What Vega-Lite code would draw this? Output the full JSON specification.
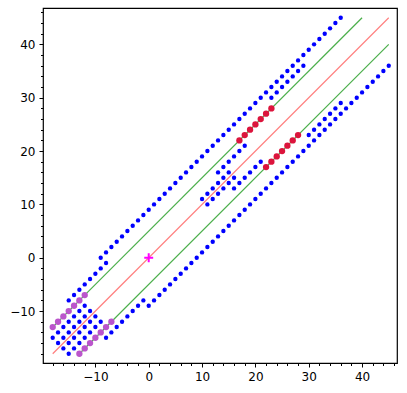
{
  "$schema": "https://vega.github.io/schema/vega-lite/v6.json",
  "width": 354,
  "height": 355,
  "autosize": {"type": "none"},
  "padding": {"left": 43, "top": 8, "right": 10, "bottom": 30},
  "background": "white",
  "config": {
    "view": {"stroke": "black", "strokeWidth": 1.2},
    "axis": {"grid": false, "domain": false, "tickColor": "black", "labelColor": "black", "labelFont": "DejaVu Sans", "labelFontSize": 12, "labelFlush": false, "tickWidth": 1}
  },
  "datasets": {
    "lines": [
      {"x": -18, "y": -18, "x2": 45, "y2": 45, "c": "L"},
      {"x": -18, "y": -13, "x2": 40, "y2": 45, "c": "G"},
      {"x": -13, "y": -18, "x2": 45, "y2": 40, "c": "G"}
    ],
    "pts": [
      {"x":-9,"y":0,"k":"b"},{"x":-8,"y":1,"k":"b"},{"x":-7,"y":2,"k":"b"},{"x":-6,"y":3,"k":"b"},{"x":-5,"y":4,"k":"b"},{"x":-4,"y":5,"k":"b"},{"x":-3,"y":6,"k":"b"},{"x":-2,"y":7,"k":"b"},{"x":-1,"y":8,"k":"b"},{"x":0,"y":9,"k":"b"},
      {"x":1,"y":10,"k":"b"},{"x":2,"y":11,"k":"b"},{"x":3,"y":12,"k":"b"},{"x":4,"y":13,"k":"b"},{"x":5,"y":14,"k":"b"},{"x":6,"y":15,"k":"b"},{"x":7,"y":16,"k":"b"},{"x":8,"y":17,"k":"b"},{"x":9,"y":18,"k":"b"},{"x":10,"y":19,"k":"b"},
      {"x":11,"y":20,"k":"b"},{"x":12,"y":21,"k":"b"},{"x":13,"y":22,"k":"b"},{"x":14,"y":23,"k":"b"},{"x":15,"y":24,"k":"b"},{"x":16,"y":25,"k":"b"},{"x":17,"y":26,"k":"b"},{"x":18,"y":27,"k":"b"},{"x":19,"y":28,"k":"b"},{"x":20,"y":29,"k":"b"},
      {"x":21,"y":30,"k":"b"},{"x":22,"y":31,"k":"b"},{"x":23,"y":32,"k":"b"},{"x":24,"y":33,"k":"b"},{"x":25,"y":34,"k":"b"},{"x":26,"y":35,"k":"b"},{"x":27,"y":36,"k":"b"},{"x":28,"y":37,"k":"b"},{"x":29,"y":38,"k":"b"},{"x":30,"y":39,"k":"b"},
      {"x":31,"y":40,"k":"b"},{"x":32,"y":41,"k":"b"},{"x":33,"y":42,"k":"b"},{"x":34,"y":43,"k":"b"},{"x":35,"y":44,"k":"b"},{"x":36,"y":45,"k":"b"},
      {"x":0,"y":-9,"k":"b"},{"x":1,"y":-8,"k":"b"},{"x":2,"y":-7,"k":"b"},{"x":3,"y":-6,"k":"b"},{"x":4,"y":-5,"k":"b"},{"x":5,"y":-4,"k":"b"},{"x":6,"y":-3,"k":"b"},{"x":7,"y":-2,"k":"b"},{"x":8,"y":-1,"k":"b"},{"x":9,"y":0,"k":"b"},
      {"x":10,"y":1,"k":"b"},{"x":11,"y":2,"k":"b"},{"x":12,"y":3,"k":"b"},{"x":13,"y":4,"k":"b"},{"x":14,"y":5,"k":"b"},{"x":15,"y":6,"k":"b"},{"x":16,"y":7,"k":"b"},{"x":17,"y":8,"k":"b"},{"x":18,"y":9,"k":"b"},{"x":19,"y":10,"k":"b"},
      {"x":20,"y":11,"k":"b"},{"x":21,"y":12,"k":"b"},{"x":22,"y":13,"k":"b"},{"x":23,"y":14,"k":"b"},{"x":24,"y":15,"k":"b"},{"x":25,"y":16,"k":"b"},{"x":26,"y":17,"k":"b"},{"x":27,"y":18,"k":"b"},{"x":28,"y":19,"k":"b"},{"x":29,"y":20,"k":"b"},
      {"x":30,"y":21,"k":"b"},{"x":31,"y":22,"k":"b"},{"x":32,"y":23,"k":"b"},{"x":33,"y":24,"k":"b"},{"x":34,"y":25,"k":"b"},{"x":35,"y":26,"k":"b"},{"x":36,"y":27,"k":"b"},{"x":37,"y":28,"k":"b"},{"x":38,"y":29,"k":"b"},{"x":39,"y":30,"k":"b"},
      {"x":40,"y":31,"k":"b"},{"x":41,"y":32,"k":"b"},{"x":42,"y":33,"k":"b"},{"x":43,"y":34,"k":"b"},{"x":44,"y":35,"k":"b"},{"x":45,"y":36,"k":"b"},
      {"x":-15,"y":-8,"k":"b"},{"x":-14,"y":-7,"k":"b"},{"x":-13,"y":-6,"k":"b"},{"x":-12,"y":-5,"k":"b"},{"x":-11,"y":-4,"k":"b"},{"x":-10,"y":-3,"k":"b"},{"x":-9,"y":-2,"k":"b"},{"x":-8,"y":-1,"k":"b"},
      {"x":-8,"y":-15,"k":"b"},{"x":-7,"y":-14,"k":"b"},{"x":-6,"y":-13,"k":"b"},{"x":-5,"y":-12,"k":"b"},{"x":-4,"y":-11,"k":"b"},{"x":-3,"y":-10,"k":"b"},{"x":-2,"y":-9,"k":"b"},{"x":-1,"y":-8,"k":"b"},
      {"x":23,"y":30,"k":"b"},{"x":24,"y":31,"k":"b"},{"x":25,"y":32,"k":"b"},{"x":26,"y":33,"k":"b"},{"x":27,"y":34,"k":"b"},{"x":28,"y":35,"k":"b"},{"x":29,"y":36,"k":"b"},
      {"x":30,"y":23,"k":"b"},{"x":31,"y":24,"k":"b"},{"x":32,"y":25,"k":"b"},{"x":33,"y":26,"k":"b"},{"x":34,"y":27,"k":"b"},{"x":35,"y":28,"k":"b"},{"x":36,"y":29,"k":"b"},
      {"x":-18,"y":-15,"k":"b"},{"x":-17,"y":-14,"k":"b"},{"x":-16,"y":-13,"k":"b"},{"x":-15,"y":-12,"k":"b"},{"x":-14,"y":-11,"k":"b"},{"x":-13,"y":-10,"k":"b"},{"x":-12,"y":-9,"k":"b"},
      {"x":-17,"y":-16,"k":"b"},{"x":-16,"y":-15,"k":"b"},{"x":-15,"y":-14,"k":"b"},{"x":-14,"y":-13,"k":"b"},{"x":-13,"y":-12,"k":"b"},{"x":-12,"y":-11,"k":"b"},{"x":-11,"y":-10,"k":"b"},
      {"x":-16,"y":-17,"k":"b"},{"x":-15,"y":-16,"k":"b"},{"x":-14,"y":-15,"k":"b"},{"x":-13,"y":-14,"k":"b"},{"x":-12,"y":-13,"k":"b"},{"x":-11,"y":-12,"k":"b"},{"x":-10,"y":-11,"k":"b"},
      {"x":-15,"y":-18,"k":"b"},{"x":-14,"y":-17,"k":"b"},{"x":-13,"y":-16,"k":"b"},{"x":-12,"y":-15,"k":"b"},{"x":-11,"y":-14,"k":"b"},{"x":-10,"y":-13,"k":"b"},{"x":-9,"y":-12,"k":"b"},
      {"x":13,"y":16,"k":"b"},{"x":14,"y":17,"k":"b"},{"x":15,"y":18,"k":"b"},{"x":16,"y":19,"k":"b"},{"x":17,"y":20,"k":"b"},{"x":18,"y":21,"k":"b"},
      {"x":10,"y":11,"k":"b"},{"x":11,"y":12,"k":"b"},{"x":12,"y":13,"k":"b"},{"x":13,"y":14,"k":"b"},{"x":14,"y":15,"k":"b"},{"x":15,"y":16,"k":"b"},
      {"x":11,"y":10,"k":"b"},{"x":12,"y":11,"k":"b"},{"x":13,"y":12,"k":"b"},{"x":14,"y":13,"k":"b"},{"x":15,"y":14,"k":"b"},{"x":16,"y":15,"k":"b"},
      {"x":16,"y":13,"k":"b"},{"x":17,"y":14,"k":"b"},{"x":18,"y":15,"k":"b"},{"x":19,"y":16,"k":"b"},{"x":20,"y":17,"k":"b"},{"x":21,"y":18,"k":"b"},
      {"x":-18,"y":-13,"k":"p"},{"x":-17,"y":-12,"k":"p"},{"x":-16,"y":-11,"k":"p"},{"x":-15,"y":-10,"k":"p"},{"x":-14,"y":-9,"k":"p"},{"x":-13,"y":-8,"k":"p"},{"x":-12,"y":-7,"k":"p"},
      {"x":-13,"y":-18,"k":"p"},{"x":-12,"y":-17,"k":"p"},{"x":-11,"y":-16,"k":"p"},{"x":-10,"y":-15,"k":"p"},{"x":-9,"y":-14,"k":"p"},{"x":-8,"y":-13,"k":"p"},{"x":-7,"y":-12,"k":"p"},
      {"x":17,"y":22,"k":"r"},{"x":18,"y":23,"k":"r"},{"x":19,"y":24,"k":"r"},{"x":20,"y":25,"k":"r"},{"x":21,"y":26,"k":"r"},{"x":22,"y":27,"k":"r"},{"x":23,"y":28,"k":"r"},
      {"x":22,"y":17,"k":"r"},{"x":23,"y":18,"k":"r"},{"x":24,"y":19,"k":"r"},{"x":25,"y":20,"k":"r"},{"x":26,"y":21,"k":"r"},{"x":27,"y":22,"k":"r"},{"x":28,"y":23,"k":"r"},
      {"x":0,"y":0,"k":"o"}
    ]
  },
  "layer": [
    {
      "data": {"name": "lines"},
      "mark": {"type": "rule", "strokeWidth": 1.2},
      "encoding": {
        "x": {"field": "x", "type": "quantitative", "scale": {"domain": [-19.82, 46.55], "nice": false, "zero": false},
              "axis": {"orient": "bottom", "values": [-18,-16,-14,-12,-8,-6,-4,-2,2,4,6,8,12,14,16,18,22,24,26,28,32,34,36,38,42,44,46], "labels": false, "tickSize": 2.5, "title": null}},
        "y": {"field": "y", "type": "quantitative", "scale": {"domain": [-19.74, 46.82], "nice": false, "zero": false},
              "axis": {"orient": "left", "values": [-18,-16,-14,-12,-8,-6,-4,-2,2,4,6,8,12,14,16,18,22,24,26,28,32,34,36,38,42,44,46], "labels": false, "tickSize": 2.5, "title": null}},
        "x2": {"field": "x2"},
        "y2": {"field": "y2"},
        "color": {"field": "c", "type": "nominal", "scale": {"domain": ["L", "G"], "range": ["#ff8080", "#4caf4c"]}, "legend": null}
      }
    },
    {
      "data": {"name": "pts"},
      "transform": [{"filter": "datum.k == 'b'"}],
      "mark": {"type": "circle", "size": 19, "color": "#0000ff", "opacity": 1},
      "encoding": {
        "x": {"field": "x", "type": "quantitative",
              "axis": {"orient": "bottom", "values": [-10, 0, 10, 20, 30, 40], "tickSize": 4, "labelPadding": 4, "title": null, "labelExpr": "replace(datum.label, '-', '\u2212')"}},
        "y": {"field": "y", "type": "quantitative",
              "axis": {"orient": "left", "values": [-10, 0, 10, 20, 30, 40], "tickSize": 4, "labelPadding": 4, "title": null, "labelExpr": "replace(datum.label, '-', '\u2212')"}}
      }
    },
    {
      "data": {"name": "pts"},
      "transform": [{"filter": "datum.k == 'p' || datum.k == 'r'"}],
      "mark": {"type": "circle", "size": 40, "opacity": 1},
      "encoding": {
        "x": {"field": "x", "type": "quantitative", "axis": null},
        "y": {"field": "y", "type": "quantitative", "axis": null},
        "fill": {"field": "k", "type": "nominal", "scale": {"domain": ["p", "r"], "range": ["#bb55cc", "#dc143c"]}, "legend": null}
      }
    },
    {
      "data": {"name": "pts"},
      "transform": [{"filter": "datum.k == 'o'"}],
      "mark": {"type": "point", "shape": "M-1,0H1M0,-1V1", "size": 80, "filled": false, "stroke": "#ff00ff", "strokeWidth": 2, "opacity": 1},
      "encoding": {
        "x": {"field": "x", "type": "quantitative", "axis": null},
        "y": {"field": "y", "type": "quantitative", "axis": null}
      }
    }
  ],
  "resolve": {"axis": {"x": "independent", "y": "independent"}}
}
